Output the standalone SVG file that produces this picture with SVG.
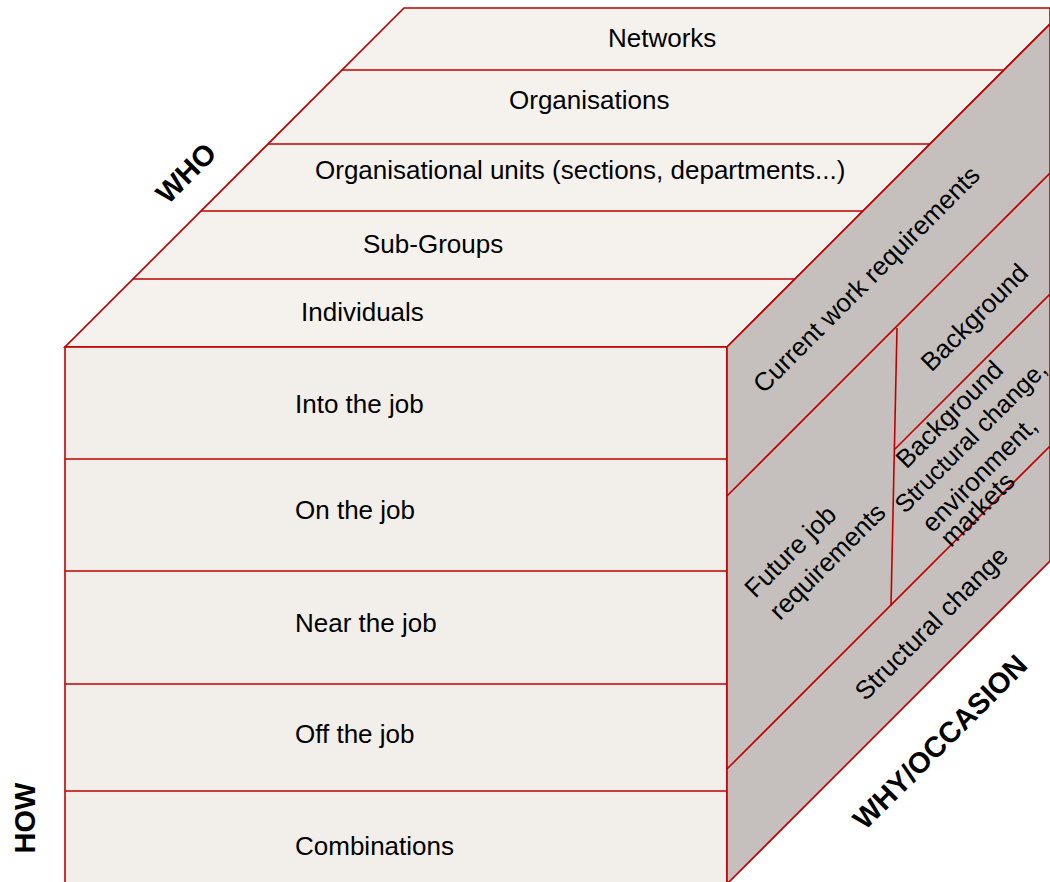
<svg xmlns="http://www.w3.org/2000/svg" width="1050" height="882" viewBox="0 0 1050 882">
<style>
.ln{stroke:#c00000;stroke-width:1.6}
.top{fill:#f5f2ee}
.front{fill:#f2eeea}
.side{fill:#c5c0bd}
.t{font-family:"Liberation Sans",Arial,sans-serif;font-size:26px;fill:#000}
.b{font-family:"Liberation Sans",Arial,sans-serif;font-size:29px;font-weight:bold;fill:#000}
.m{text-anchor:middle}
</style>
<rect x="0" y="0" width="1050" height="882" fill="#ffffff"/>
<g id="top-face">
<polygon points="404,8 1050,8 1050,24 727,347 65,347" class="ln top"/>
<line class="ln" x1="342" y1="70" x2="1004" y2="70"/>
<line class="ln" x1="268" y1="144" x2="930" y2="144"/>
<line class="ln" x1="201" y1="211" x2="863" y2="211"/>
<line class="ln" x1="133" y1="279" x2="795" y2="279"/>
<text class="t" x="608" y="47">Networks</text>
<text class="t" x="509" y="109">Organisations</text>
<text class="t" x="315" y="179">Organisational units (sections, departments...)</text>
<text class="t" x="363" y="253">Sub-Groups</text>
<text class="t" x="301" y="321">Individuals</text>
</g>
<g id="front-face">
<rect x="65" y="347" width="662" height="540" class="ln front"/>
<line class="ln" x1="65" y1="459" x2="728" y2="459"/>
<line class="ln" x1="65" y1="571" x2="728" y2="571"/>
<line class="ln" x1="65" y1="684" x2="728" y2="684"/>
<line class="ln" x1="65" y1="791" x2="728" y2="791"/>
<text class="t" x="295" y="413">Into the job</text>
<text class="t" x="295" y="519">On the job</text>
<text class="t" x="295" y="632">Near the job</text>
<text class="t" x="295" y="743">Off the job</text>
<text class="t" x="295" y="855">Combinations</text>
</g>
<g id="right-face">
<polygon points="727,347 1050,24 1050,561 729,882 727,882" class="ln side"/>
</g>
<g id="connectors">
<line class="ln" x1="727" y1="496" x2="1050" y2="173"/>
<line class="ln" x1="895" y1="449" x2="1050" y2="294"/>
<line class="ln" x1="727" y1="769" x2="1050" y2="446"/>
<line class="ln" x1="897" y1="328" x2="891" y2="606"/>
</g>
<g id="why-labels">
<text class="t m" transform="translate(867,280) rotate(-45)" y="8">Current work requirements</text>
<text class="t m" transform="translate(975,318) rotate(-45)" y="8">Background</text>
<text class="t m" transform="translate(950,415) rotate(-45)" y="8">Background</text>
<text class="t m" transform="translate(971,437) rotate(-45)" y="8" style="font-size:25px">Structural change,</text>
<text class="t m" transform="translate(980,475) rotate(-45)" y="8">environment,</text>
<text class="t m" transform="translate(978,510) rotate(-45)" y="8">markets</text>
<text class="t m" transform="translate(791,552) rotate(-45)" y="8">Future job</text>
<text class="t m" transform="translate(828,562) rotate(-45)" y="8">requirements</text>
<text class="t m" transform="translate(932,624) rotate(-45)" y="8">Structural change</text>
</g>
<g id="axis-labels">
<text class="b m" transform="translate(186,173) rotate(-45)" y="10">WHO</text>
<text class="b m" transform="translate(25,818) rotate(-90)" y="10">HOW</text>
<text class="b m" transform="translate(940,742) rotate(-45)" y="10">WHY/OCCASION</text>
</g>
</svg>
